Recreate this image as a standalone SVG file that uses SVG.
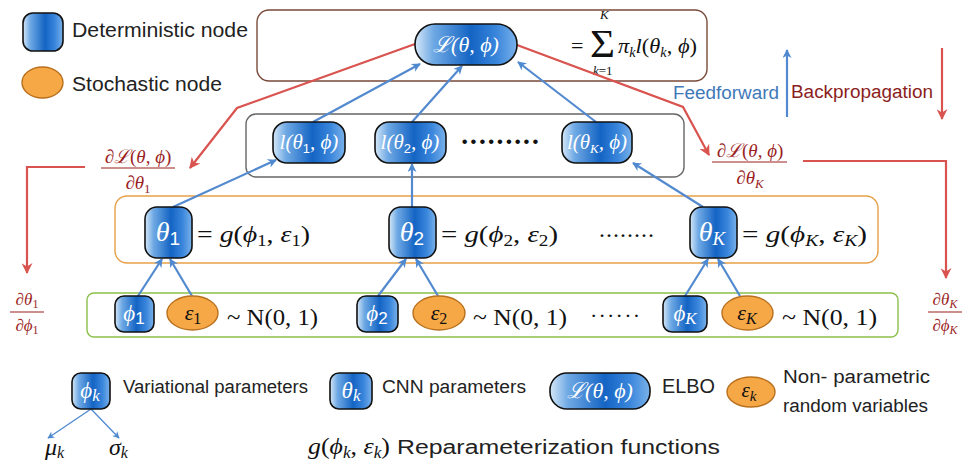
<svg xmlns="http://www.w3.org/2000/svg" width="971" height="465" viewBox="0 0 971 465">
<defs>
<linearGradient id="bg" x1="0" y1="0" x2="1" y2="0">
<stop offset="0" stop-color="#d6e8f8"/>
<stop offset="0.18" stop-color="#6fa9e4"/>
<stop offset="0.55" stop-color="#1464c4"/>
<stop offset="0.8" stop-color="#3a86dc"/>
<stop offset="1" stop-color="#7ab2ea"/>
</linearGradient>
<marker id="ab" viewBox="0 0 10 10" refX="9" refY="5" markerWidth="11" markerHeight="9" markerUnits="userSpaceOnUse" orient="auto"><path d="M0,0 L10,5 L0,10 L3,5 z" fill="#4f8ad0"/></marker>
<marker id="abs" viewBox="0 0 10 10" refX="9" refY="5" markerWidth="9" markerHeight="7" markerUnits="userSpaceOnUse" orient="auto"><path d="M0,0 L10,5 L0,10 L3,5 z" fill="#4f8ad0"/></marker>
<marker id="ar" viewBox="0 0 10 10" refX="9" refY="5" markerWidth="14" markerHeight="11" markerUnits="userSpaceOnUse" orient="auto"><path d="M0,0 L10,5 L0,10 L3,5 z" fill="#d9534f"/></marker>
</defs>
<style>
.det{fill:url(#bg);stroke:#111;stroke-width:1.6}
.sto{fill:#f6a846;stroke:#b8701e;stroke-width:1.4}
.nt{font-family:"Liberation Serif","DejaVu Serif",serif;font-style:italic;fill:#fff}
.sub{font-style:normal;font-family:"Liberation Sans",sans-serif}
.m{font-family:"Liberation Serif","DejaVu Serif",serif;fill:#111}
.i{font-style:italic}
.lab{font-family:"Liberation Sans",Arial,sans-serif;fill:#222}
.dr{font-family:"Liberation Serif","DejaVu Serif",serif;fill:#9b1f1f}
.bl{stroke:#5289cf;stroke-width:2.2;fill:none}
.rd{stroke:#d9534f;stroke-width:2.2;fill:none}
.box{fill:none;stroke-width:1.4}
</style>

<!-- legend top -->
<g id="legend-det">
<rect class="det" x="23" y="13" width="40" height="38" rx="10"/>
<text class="lab" x="72" y="37" font-size="20" textLength="176" lengthAdjust="spacingAndGlyphs">Deterministic node</text>
</g>
<g id="legend-sto">
<ellipse class="sto" cx="42.5" cy="82.5" rx="20.5" ry="15.5"/>
<text class="lab" x="72" y="91" font-size="20" textLength="150" lengthAdjust="spacingAndGlyphs">Stochastic node</text>
</g>

<!-- containers -->
<g id="top-box">
<rect class="box" x="257" y="10" width="450" height="71" rx="12" stroke="#7a4a3a"/>
<text class="m" x="571" y="53" font-size="22">=</text>
<text class="m" x="590" y="57" font-size="40" textLength="25" lengthAdjust="spacingAndGlyphs">Σ</text>
<text class="m i" x="600" y="19" font-size="13">K</text>
<text class="m" x="593" y="75" font-size="13"><tspan class="i">k</tspan>=1</text>
<text class="m" x="618" y="53" font-size="22" textLength="79" lengthAdjust="spacingAndGlyphs"><tspan class="i">π</tspan><tspan class="i" font-size="14" dy="4">k</tspan><tspan class="i" dy="-4">l</tspan>(<tspan class="i">θ</tspan><tspan class="i" font-size="14" dy="4">k</tspan><tspan dy="-4">, </tspan><tspan class="i">ϕ</tspan>)</text>
</g>
<g id="l-box"><rect class="box" x="246" y="114" width="438" height="63" rx="10" stroke="#666"/>
<text class="m" x="460" y="151" font-size="28" font-weight="bold" textLength="80" lengthAdjust="spacing">·········</text></g>
<g id="theta-box"><rect class="box" x="115" y="196" width="763" height="67" rx="12" stroke="#e8a048"/></g>
<g id="phi-box"><rect class="box" x="87" y="293" width="811" height="44" rx="7" stroke="#8cc04a"/></g>

<!-- connectors -->
<g id="connectors">
<line class="bl" x1="313" y1="122" x2="420" y2="64" marker-end="url(#ab)"/>
<line class="bl" x1="412" y1="122" x2="462" y2="66" marker-end="url(#ab)"/>
<line class="bl" x1="596" y1="122" x2="518" y2="62" marker-end="url(#ab)"/>
<line class="bl" x1="173" y1="207" x2="276" y2="160" marker-end="url(#ab)"/>
<line class="bl" x1="412" y1="207" x2="412" y2="164" marker-end="url(#ab)"/>
<line class="bl" x1="703" y1="207" x2="633" y2="163" marker-end="url(#ab)"/>
<line class="bl" x1="138" y1="296" x2="162" y2="259" marker-end="url(#ab)"/>
<line class="bl" x1="192" y1="296" x2="170" y2="259" marker-end="url(#ab)"/>
<line class="bl" x1="378" y1="296" x2="406" y2="259" marker-end="url(#ab)"/>
<line class="bl" x1="438" y1="296" x2="416" y2="259" marker-end="url(#ab)"/>
<line class="bl" x1="685" y1="296" x2="708" y2="259" marker-end="url(#ab)"/>
<line class="bl" x1="740" y1="296" x2="718" y2="259" marker-end="url(#ab)"/>
<line class="bl" x1="787" y1="117" x2="787" y2="50" marker-end="url(#ab)"/>
<polyline class="rd" points="415,44 237,108 190,168" marker-end="url(#ar)"/>
<polyline class="rd" points="517,45 683,107 709,155" marker-end="url(#ar)"/>
<polyline class="rd" points="85,167 27,167 27,273" marker-end="url(#ar)"/>
<polyline class="rd" points="803,161 946,161 946,278" marker-end="url(#ar)"/>
<line class="rd" x1="942" y1="48" x2="942" y2="119" marker-end="url(#ar)"/>
<line stroke="#4f8ad0" stroke-width="1.3" x1="91" y1="409" x2="48" y2="438" marker-end="url(#abs)"/>
<line stroke="#4f8ad0" stroke-width="1.3" x1="91" y1="409" x2="119" y2="438" marker-end="url(#abs)"/>
</g>

<text class="lab" x="673" y="99" font-size="18" textLength="106" lengthAdjust="spacingAndGlyphs" style="fill:#3f79b8">Feedforward</text>
<text class="lab" x="791" y="98" font-size="18" textLength="142" lengthAdjust="spacingAndGlyphs" style="fill:#8b1e1e">Backpropagation</text>

<!-- derivative labels -->
<g id="dL-dtheta1">
<text class="dr" x="138" y="163" font-size="19" text-anchor="middle">∂<tspan class="i">ℒ</tspan>(<tspan class="i">θ</tspan>, <tspan class="i">ϕ</tspan>)</text>
<line x1="101" y1="168" x2="175" y2="168" stroke="#9b1f1f" stroke-width="1.2"/>
<text class="dr" x="138" y="189" font-size="19" text-anchor="middle">∂<tspan class="i">θ</tspan><tspan font-size="13" dy="4">1</tspan></text>
</g>
<g id="dL-dthetaK">
<text class="dr" x="750" y="157" font-size="19" text-anchor="middle">∂<tspan class="i">ℒ</tspan>(<tspan class="i">θ</tspan>, <tspan class="i">ϕ</tspan>)</text>
<line x1="712" y1="162" x2="787" y2="162" stroke="#9b1f1f" stroke-width="1.2"/>
<text class="dr" x="750" y="184" font-size="19" text-anchor="middle">∂<tspan class="i">θ</tspan><tspan class="i" font-size="13" dy="4">K</tspan></text>
</g>
<g id="dtheta1-dphi1">
<text class="dr" x="27" y="305" font-size="17" text-anchor="middle">∂<tspan class="i">θ</tspan><tspan font-size="12" dy="3">1</tspan></text>
<line x1="10" y1="312" x2="44" y2="312" stroke="#9b1f1f" stroke-width="1.1"/>
<text class="dr" x="27" y="331" font-size="17" text-anchor="middle">∂<tspan class="i">ϕ</tspan><tspan font-size="12" dy="3">1</tspan></text>
</g>
<g id="dthetaK-dphiK">
<text class="dr" x="945" y="305" font-size="17" text-anchor="middle">∂<tspan class="i">θ</tspan><tspan class="i" font-size="12" dy="3">K</tspan></text>
<line x1="928" y1="312" x2="962" y2="312" stroke="#9b1f1f" stroke-width="1.1"/>
<text class="dr" x="945" y="331" font-size="17" text-anchor="middle">∂<tspan class="i">ϕ</tspan><tspan class="i" font-size="12" dy="3">K</tspan></text>
</g>

<!-- nodes -->
<g id="node-L">
<rect class="det" x="415" y="24" width="102" height="41" rx="20"/>
<text class="nt" x="466" y="52" font-size="22" text-anchor="middle">ℒ(θ, ϕ)</text>
</g>
<g id="node-l1">
<rect class="det" x="273" y="122" width="72" height="41" rx="14"/>
<text class="nt" x="309" y="149" font-size="21" text-anchor="middle">l(θ<tspan class="sub" font-size="13" dy="4">1</tspan><tspan dy="-4">, ϕ)</tspan></text>
</g>
<g id="node-l2">
<rect class="det" x="375" y="122" width="71" height="41" rx="14"/>
<text class="nt" x="410" y="149" font-size="21" text-anchor="middle">l(θ<tspan class="sub" font-size="13" dy="4">2</tspan><tspan dy="-4">, ϕ)</tspan></text>
</g>
<g id="node-lK">
<rect class="det" x="562" y="122" width="70" height="41" rx="14"/>
<text class="nt" x="597" y="149" font-size="21" text-anchor="middle">l(θ<tspan font-size="13" dy="4">K</tspan><tspan dy="-4">, ϕ)</tspan></text>
</g>

<g id="node-theta1">
<rect class="det" x="145" y="207" width="47" height="51" rx="12"/>
<text class="nt" x="168" y="241" font-size="28" text-anchor="middle">θ<tspan class="sub" font-size="19" dy="4">1</tspan></text>
</g>
<text class="m" x="197" y="242" font-size="24" textLength="113" lengthAdjust="spacingAndGlyphs">= <tspan class="i">g</tspan>(<tspan class="i">ϕ</tspan><tspan font-size="16" dy="4">1</tspan><tspan dy="-4">, </tspan><tspan class="i">ε</tspan><tspan font-size="16" dy="4">1</tspan><tspan dy="-4">)</tspan></text>
<g id="node-theta2">
<rect class="det" x="389" y="207" width="47" height="51" rx="12"/>
<text class="nt" x="412" y="241" font-size="28" text-anchor="middle">θ<tspan class="sub" font-size="19" dy="4">2</tspan></text>
</g>
<text class="m" x="441" y="242" font-size="24" textLength="117" lengthAdjust="spacingAndGlyphs">= <tspan class="i">g</tspan>(<tspan class="i">ϕ</tspan><tspan font-size="16" dy="4">2</tspan><tspan dy="-4">, </tspan><tspan class="i">ε</tspan><tspan font-size="16" dy="4">2</tspan><tspan dy="-4">)</tspan></text>
<text class="m" x="598" y="243" font-size="24" textLength="57" lengthAdjust="spacing">········</text>
<g id="node-thetaK">
<rect class="det" x="690" y="207" width="47" height="51" rx="12"/>
<text class="nt" x="712" y="241" font-size="28" text-anchor="middle">θ<tspan font-size="19" dy="4">K</tspan></text>
</g>
<text class="m" x="742" y="242" font-size="24" textLength="125" lengthAdjust="spacingAndGlyphs">= <tspan class="i">g</tspan>(<tspan class="i">ϕ</tspan><tspan class="i" font-size="16" dy="4">K</tspan><tspan dy="-4">, </tspan><tspan class="i">ε</tspan><tspan class="i" font-size="16" dy="4">K</tspan><tspan dy="-4">)</tspan></text>

<g id="node-phi1">
<rect class="det" x="115" y="296" width="39" height="36" rx="9"/>
<text class="nt" x="134" y="321" font-size="23" text-anchor="middle">ϕ<tspan class="sub" font-size="17" dy="3">1</tspan></text>
</g>
<g id="node-eps1">
<ellipse class="sto" cx="192.5" cy="313" rx="25.5" ry="17"/>
<text class="m i" x="193" y="320" font-size="22" text-anchor="middle">ε<tspan font-size="16" dy="4" style="font-style:normal">1</tspan></text>
</g>
<text class="m" x="227" y="325" font-size="24" textLength="91" lengthAdjust="spacingAndGlyphs">~ N(0, 1)</text>
<g id="node-phi2">
<rect class="det" x="357" y="296" width="41" height="36" rx="9"/>
<text class="nt" x="377" y="321" font-size="23" text-anchor="middle">ϕ<tspan class="sub" font-size="17" dy="3">2</tspan></text>
</g>
<g id="node-eps2">
<ellipse class="sto" cx="439" cy="313" rx="26" ry="17"/>
<text class="m i" x="439" y="320" font-size="22" text-anchor="middle">ε<tspan font-size="16" dy="4" style="font-style:normal">2</tspan></text>
</g>
<text class="m" x="473" y="325" font-size="24" textLength="94" lengthAdjust="spacingAndGlyphs">~ N(0, 1)</text>
<text class="m" x="590" y="323" font-size="22" textLength="50" lengthAdjust="spacing">······</text>
<g id="node-phiK">
<rect class="det" x="663" y="296" width="44" height="36" rx="9"/>
<text class="nt" x="685" y="321" font-size="23" text-anchor="middle">ϕ<tspan font-size="17" dy="3">K</tspan></text>
</g>
<g id="node-epsK">
<ellipse class="sto" cx="747.5" cy="313" rx="25.5" ry="17"/>
<text class="m i" x="747" y="320" font-size="22" text-anchor="middle">ε<tspan font-size="16" dy="4">K</tspan></text>
</g>
<text class="m" x="782" y="325" font-size="24" textLength="95" lengthAdjust="spacingAndGlyphs">~ N(0, 1)</text>

<!-- bottom legend -->
<g id="legend-phik">
<rect class="det" x="72" y="373" width="38" height="36" rx="9"/>
<text class="nt" x="90" y="398" font-size="23" text-anchor="middle">ϕ<tspan font-size="17" dy="3">k</tspan></text>
<text class="lab" x="123" y="393" font-size="18" textLength="185" lengthAdjust="spacingAndGlyphs">Variational parameters</text>
<text class="m i" x="45" y="455" font-size="24">μ<tspan font-size="16" dy="3">k</tspan></text>
<text class="m i" x="109" y="455" font-size="24">σ<tspan font-size="16" dy="3">k</tspan></text>
</g>
<g id="legend-thetak">
<rect class="det" x="330" y="373" width="42" height="36" rx="9"/>
<text class="nt" x="351" y="398" font-size="23" text-anchor="middle">θ<tspan font-size="17" dy="3">k</tspan></text>
<text class="lab" x="382" y="393" font-size="18" textLength="144" lengthAdjust="spacingAndGlyphs">CNN parameters</text>
</g>
<g id="legend-L">
<rect class="det" x="550" y="373" width="100" height="36" rx="17"/>
<text class="nt" x="600" y="398" font-size="22" text-anchor="middle">ℒ(θ, ϕ)</text>
<text class="lab" x="662" y="393" font-size="21" textLength="53" lengthAdjust="spacingAndGlyphs">ELBO</text>
</g>
<g id="legend-epsk">
<ellipse class="sto" cx="751" cy="392" rx="24" ry="15"/>
<text class="m i" x="749" y="397" font-size="21" text-anchor="middle">ε<tspan font-size="15" dy="4">k</tspan></text>
<text class="lab" x="783" y="383" font-size="18" textLength="147" lengthAdjust="spacingAndGlyphs">Non- parametric</text>
<text class="lab" x="783" y="412" font-size="18" textLength="145" lengthAdjust="spacingAndGlyphs">random variables</text>
</g>
<g id="legend-g">
<text class="m" x="308" y="454" font-size="24" textLength="82" lengthAdjust="spacingAndGlyphs"><tspan class="i">g</tspan>(<tspan class="i">ϕ</tspan><tspan class="i" font-size="16" dy="4">k</tspan><tspan dy="-4">, </tspan><tspan class="i">ε</tspan><tspan class="i" font-size="16" dy="4">k</tspan><tspan dy="-4">)</tspan></text>
<text class="lab" x="397" y="454" font-size="20" textLength="323" lengthAdjust="spacingAndGlyphs">Reparameterization functions</text>
</g>
</svg>
